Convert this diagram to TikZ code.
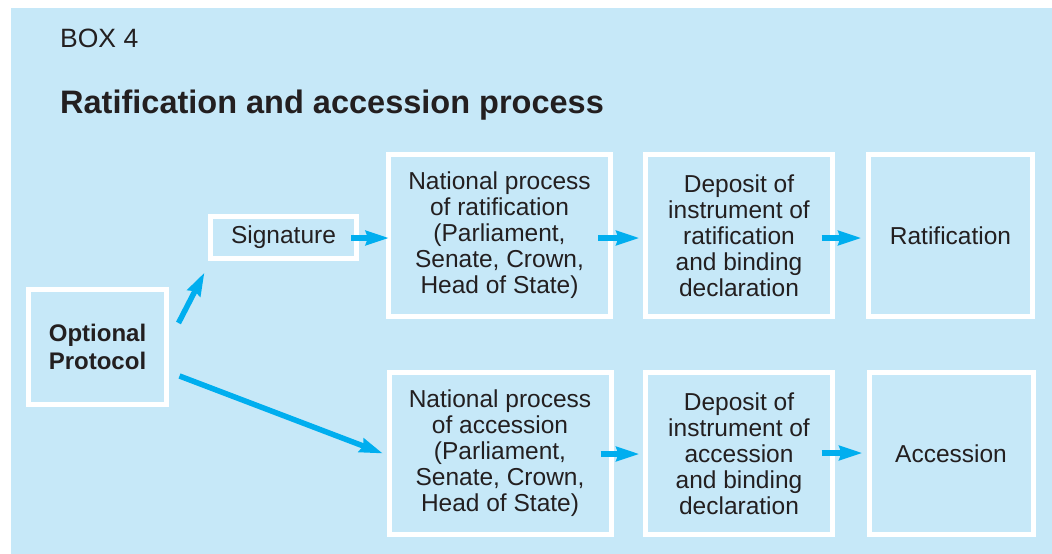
\documentclass[tikz,border=0pt]{standalone}
\usepackage{fontspec}
\setmainfont{Liberation Sans}
\usetikzlibrary{arrows.meta,calc}
\definecolor{bgblue}{HTML}{C6E8F8}
\definecolor{arrblue}{HTML}{00AEEF}
\definecolor{txt}{HTML}{231F20}
\begin{document}
\begin{tikzpicture}[x=1pt,y=-1pt,
  box/.style={draw=white,line width=5pt,fill=bgblue,inner sep=0pt,align=center,text=txt,
    font=\fontsize{24.5}{26}\selectfont},
  bigbox/.style={box,minimum height=162pt},
  flow/.style={draw=arrblue,line width=5.5pt,-{Stealth[length=23pt,width=14pt,inset=2pt]}},
  label/.style={inner sep=0pt,anchor=base west,text=txt}]
\useasboundingbox (0,0) rectangle (1052,554);
\fill[bgblue] (11,8) rectangle (1052,554);
\node[label,font=\fontsize{26.5}{30}\selectfont] (boxno) at (60,47) {BOX 4};
\node[label,font=\bfseries\fontsize{32.5}{36}\selectfont] (title) at (60,113) {Ratification and accession process};
% boxes
\node[box,minimum width=138pt,minimum height=115pt,font=\bfseries\fontsize{24}{27.5}\selectfont] (op) at (97.5,347) {Optional\\Protocol};
\node[box,minimum width=146pt,minimum height=42pt] (sig) at (283.5,237.5) {Signature};
\node[bigbox,minimum width=222pt] (natT) at (499.5,235.5) {National process\\of ratification\\(Parliament,\\Senate, Crown,\\Head of State)};
\node[bigbox,minimum width=187pt] (depT) at (739,235.5) {Deposit of\\instrument of\\ratification\\and binding\\declaration};
\node[bigbox,minimum width=164pt] (rat) at (950.5,235.5) {Ratification};
\node[bigbox,minimum width=222pt] (natB) at (500,453.5) {National process\\of accession\\(Parliament,\\Senate, Crown,\\Head of State)};
\node[bigbox,minimum width=187pt] (depB) at (739,453.5) {Deposit of\\instrument of\\accession\\and binding\\declaration};
\node[bigbox,minimum width=164pt] (acc) at (951,453.5) {Accession};
% connectors
\draw[flow] ($(op.east)+(9.5,-24)$) -- ($(sig.south west)+(-3.5,11.5)$);
\draw[flow] ($(op.east)+(10.5,29)$) -- ($(natB.west)+(-3.5,0)$);
\draw[flow] ($(sig.east)+(-8,0.5)$) -- ($(natT.west)+(3,2.5)$);
\draw[flow] ($(natT.east)+(-15,2.5)$) -- ($(depT.west)+(-3.5,2.5)$);
\draw[flow] ($(depT.east)+(-13.5,2.5)$) -- ($(rat.west)+(-4.5,2.5)$);
\draw[flow] ($(natB.east)+(-13,0.5)$) -- ($(depB.west)+(-3.5,0.5)$);
\draw[flow] ($(depB.east)+(-13.5,-0.5)$) -- ($(acc.west)+(-4,-0.5)$);
\end{tikzpicture}
\end{document}
